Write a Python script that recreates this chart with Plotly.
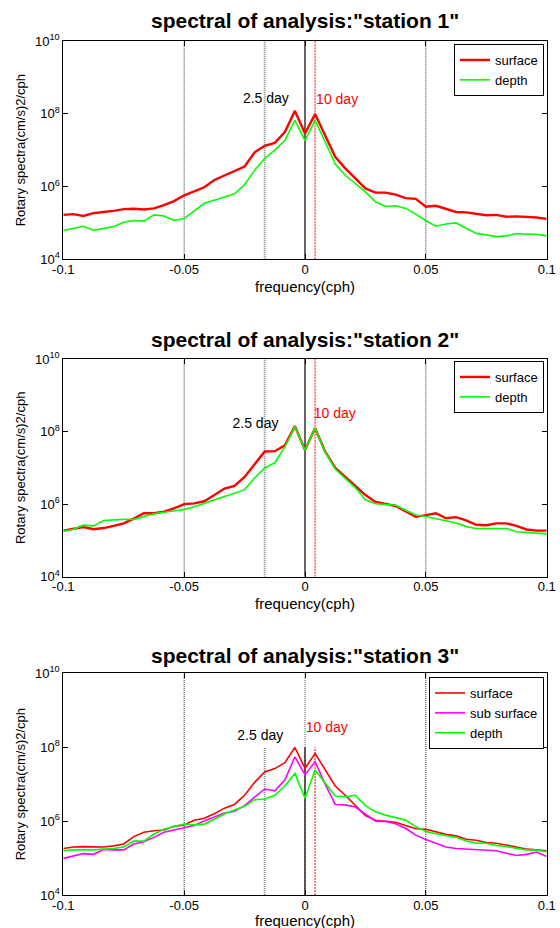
import plotly.graph_objects as go

FONT = "Arial, Liberation Sans, sans-serif"

# frequency grid (cph)
freq = [-0.1, -0.09583, -0.09167, -0.0875, -0.08333, -0.07917, -0.075, -0.07083,
        -0.06667, -0.0625, -0.05833, -0.05417, -0.05, -0.04583, -0.04167, -0.0375,
        -0.03333, -0.02917, -0.025, -0.02083, -0.01667, -0.0125, -0.00833, -0.00417,
        0.0, 0.00417, 0.00833, 0.0125, 0.01667, 0.02083, 0.025, 0.02917, 0.03333,
        0.0375, 0.04167, 0.04583, 0.05, 0.05417, 0.05833, 0.0625, 0.06667, 0.07083,
        0.075, 0.07917, 0.08333, 0.0875, 0.09167, 0.09583, 0.1]

s1_surface = [1.66e5, 1.74e5, 1.55e5, 1.86e5, 2.0e5, 2.14e5, 2.4e5, 2.45e5, 2.34e5, 2.51e5,
              3.09e5, 3.98e5, 5.75e5, 7.24e5, 9.55e5, 1.51e6, 2.04e6, 2.63e6, 3.55e6, 8.71e6,
              1.32e7, 1.58e7, 3.16e7, 1.2e8, 2.88e7, 9.8e7, 2.57e7, 6.6e6, 3.16e6, 1.66e6,
              8.9e5, 6.8e5, 6.8e5, 6.0e5, 4.8e5, 4.6e5, 2.8e5, 2.95e5, 2.4e5, 2.0e5,
              1.95e5, 1.74e5, 1.62e5, 1.66e5, 1.48e5, 1.51e5, 1.48e5, 1.41e5, 1.29e5]
s1_depth = [6.2e4, 7.1e4, 8.1e4, 6.3e4, 6.9e4, 7.9e4, 1.05e5, 1.17e5, 1.12e5, 1.66e5,
            1.55e5, 1.17e5, 1.32e5, 2.14e5, 3.47e5, 4.17e5, 5.25e5, 6.3e5, 1.12e6, 2.82e6,
            5.9e6, 1.0e7, 1.86e7, 6.6e7, 1.82e7, 6.6e7, 1.7e7, 4.17e6, 2.04e6, 1.17e6,
            7.1e5, 3.8e5, 2.82e5, 2.95e5, 2.51e5, 1.74e5, 1.15e5, 8.1e4, 9.3e4, 1.0e5,
            7.2e4, 5.1e4, 4.7e4, 4.2e4, 4.4e4, 5.1e4, 4.9e4, 4.9e4, 4.4e4]

s2_surface = [1.86e5, 2.04e5, 2.34e5, 2.04e5, 2.19e5, 2.51e5, 2.95e5, 3.98e5, 5.6e5, 5.6e5,
              6.2e5, 7.6e5, 1.0e6, 1.05e6, 1.2e6, 1.78e6, 2.69e6, 3.16e6, 5.6e6, 1.26e7,
              2.82e7, 2.88e7, 4.17e7, 1.41e8, 3.09e7, 1.23e8, 2.82e7, 1.0e7, 5.75e6, 3.16e6,
              1.78e6, 1.15e6, 1.02e6, 8.9e5, 6.3e5, 4.47e5, 5.0e5, 5.6e5, 4.07e5, 4.37e5,
              3.55e5, 2.69e5, 2.63e5, 2.95e5, 2.95e5, 2.51e5, 2.0e5, 1.86e5, 1.86e5]
s2_depth = [1.78e5, 2.04e5, 2.63e5, 2.51e5, 3.55e5, 3.72e5, 3.8e5, 3.8e5, 4.57e5, 5.4e5,
            6.0e5, 6.6e5, 7.1e5, 8.5e5, 1.07e6, 1.35e6, 1.62e6, 2.0e6, 2.51e6, 5.25e6,
            1.0e7, 1.38e7, 3.8e7, 1.38e8, 3.09e7, 1.23e8, 2.69e7, 9.3e6, 5.25e6, 2.82e6,
            1.32e6, 1.02e6, 9.8e5, 9.3e5, 6.8e5, 5.0e5, 4.57e5, 3.98e5, 3.63e5, 3.02e5,
            2.4e5, 2.14e5, 2.14e5, 2.14e5, 2.14e5, 1.74e5, 1.66e5, 1.66e5, 1.51e5]

s3_surface = [1.82e5, 2.0e5, 2.04e5, 2.0e5, 2.0e5, 2.14e5, 2.4e5, 3.8e5, 5.0e5, 5.5e5,
              5.75e5, 7.2e5, 7.9e5, 1.05e6, 1.2e6, 1.58e6, 2.24e6, 2.82e6, 5.0e6, 1.12e7,
              2.14e7, 2.63e7, 3.8e7, 9.8e7, 2.69e7, 6.8e7, 2.51e7, 8.9e6, 5.0e6, 2.63e6,
              1.41e6, 1.05e6, 1.0e6, 9.3e5, 7.6e5, 6.2e5, 6.0e5, 5.1e5, 4.37e5, 3.98e5,
              3.24e5, 3.02e5, 2.63e5, 2.51e5, 2.29e5, 2.0e5, 1.74e5, 1.66e5, 1.58e5]
s3_sub = [9.8e4, 1.12e5, 1.32e5, 1.26e5, 1.7e5, 1.66e5, 1.66e5, 2.4e5, 2.75e5, 3.63e5,
          5.0e5, 5.75e5, 6.5e5, 7.6e5, 1.0e6, 1.26e6, 1.66e6, 1.86e6, 2.63e6, 4.47e6,
          7.4e6, 6.6e6, 1.29e7, 5.5e7, 1.78e7, 4.07e7, 1.0e7, 2.82e6, 2.75e6, 2.4e6,
          1.51e6, 1.0e6, 9.8e5, 8.5e5, 6.3e5, 4.17e5, 3.16e5, 2.51e5, 2.0e5, 1.82e5,
          1.74e5, 1.74e5, 1.66e5, 1.58e5, 1.35e5, 1.17e5, 1.26e5, 1.45e5, 1.1e5]
s3_depth = [1.58e5, 1.66e5, 1.66e5, 1.66e5, 1.74e5, 1.82e5, 2.0e5, 2.88e5, 2.88e5, 4.47e5,
            6.0e5, 7.2e5, 8.3e5, 7.9e5, 8.3e5, 1.12e6, 1.58e6, 2.0e6, 2.51e6, 3.8e6,
            3.98e6, 5.0e6, 8.9e6, 1.95e7, 4.17e6, 2.4e7, 1.05e7, 4.8e6, 4.57e6, 5.0e6,
            2.63e6, 1.78e6, 1.45e6, 1.26e6, 1.05e6, 7.1e5, 5.25e5, 4.57e5, 4.17e5, 3.63e5,
            2.88e5, 2.51e5, 2.51e5, 2.19e5, 2.04e5, 1.86e5, 1.66e5, 1.62e5, 1.48e5]

titles = ['spectral of analysis:"station 1"', 'spectral of analysis:"station 2"',
          'spectral of analysis:"station 3"']
x_title = "frequency(cph)"
y_title = "Rotary spectra(cm/s)2/cph"
x_ticks = [-0.1, -0.05, 0, 0.05, 0.1]
x_ticktext = ["-0.1", "-0.05", "0", "0.05", "0.1"]
y_ticks = [1e4, 1e6, 1e8, 1e10]
y_ticktext = ["10<sup>4</sup>", "10<sup>6</sup>", "10<sup>8</sup>", "10<sup>10</sup>"]
y_range = [1e4, 1e10]

# reference frequency markers (cph)
band_edges = [-0.05, 0.05]
f_25day = -1 / 60
f_zero = 0.0
f_10day = 1 / 240
p3_marker_top = 1e8

# label positions (x in cph, y in spectra units)
label_25 = [(-0.0257, 2.5e8), (-0.0300, 1.6e8), (-0.0280, 1.9e8)]
label_10 = [(0.0046, 2.3e8), (0.0036, 2.9e8), (0.0003, 3.2e8)]

panels = [
    [("surface", s1_surface, "#ff0000", 2.4), ("depth", s1_depth, "#00ff00", 1.6)],
    [("surface", s2_surface, "#ff0000", 2.4), ("depth", s2_depth, "#00ff00", 1.6)],
    [("surface", s3_surface, "#ff0000", 1.6), ("sub surface", s3_sub, "#ff00ff", 1.6),
     ("depth", s3_depth, "#00ff00", 1.6)],
]

W, H = 560, 928
x_dom = [63.3 / W, 546.7 / W]
y_px = [(41, 259.3), (359, 576.7), (673.3, 895)]
title_px = [20.7, 339, 655]
xtitle_px = [286.5, 603.5, 920]
legend_top_px = [44, 361, 677]

fig = go.Figure()

for i, series in enumerate(panels):
    n = "" if i == 0 else str(i + 1)
    xa, ya = "x" + n, "y" + n
    leg = "legend" + n

    def vline(x, y0, y1, color, width, dash):
        fig.add_trace(go.Scatter(x=[x, x], y=[y0, y1], mode="lines", xaxis=xa, yaxis=ya,
                                 line=dict(color=color, width=width, dash=dash),
                                 showlegend=False, hoverinfo="skip"))

    for e in band_edges:
        vline(e, y_range[0], y_range[1], "#333333", 1, "1px,1px")
    if i < 2:
        vline(f_25day, y_range[0], y_range[1], "#8a8a8a", 2, "1px,1px")
        vline(f_zero, y_range[0], y_range[1], "#000000", 1.2, "solid")
        vline(f_10day, y_range[0], y_range[1], "#ff0000", 1, "2px,1px")
    else:
        vline(f_25day, y_range[0], p3_marker_top, "#8a8a8a", 2, "1px,1px")
        vline(f_zero, y_range[0], y_range[1], "#777777", 1.2, "1px,1px")
        vline(f_zero, y_range[0], p3_marker_top, "#000000", 1.2, "solid")
        vline(f_10day, y_range[0], p3_marker_top, "#ff0000", 1, "2px,1px")

    for name, vals, color, width in series:
        fig.add_trace(go.Scatter(x=freq, y=vals, mode="lines", name=name, xaxis=xa, yaxis=ya,
                                 line=dict(color=color, width=width), legend=leg))

    fig.add_trace(go.Scatter(x=[label_25[i][0]], y=[label_25[i][1]], mode="text",
                             text=["2.5 day"], textposition="middle right",
                             textfont=dict(family=FONT, size=14, color="#000000"),
                             xaxis=xa, yaxis=ya, showlegend=False, hoverinfo="skip"))
    fig.add_trace(go.Scatter(x=[label_10[i][0]], y=[label_10[i][1]], mode="text",
                             text=["10 day"], textposition="middle right",
                             textfont=dict(family=FONT, size=14, color="#ff0000"),
                             xaxis=xa, yaxis=ya, showlegend=False, hoverinfo="skip"))

    top, bot = y_px[i]
    fig.layout["xaxis" + n] = dict(
        domain=x_dom, range=[-0.1, 0.1], anchor=ya, showline=True, linecolor="black",
        linewidth=1, mirror="ticks", ticks="inside", ticklen=5, tickcolor="black",
        tickvals=x_ticks, ticktext=x_ticktext, tickfont=dict(family=FONT, size=13, color="black"),
        ticklabelstandoff=-2,
        showgrid=False, zeroline=False, automargin=False)
    fig.layout["yaxis" + n] = dict(
        domain=[1 - bot / H, 1 - top / H], type="log", range=[4, 10], anchor=xa,
        showline=True, linecolor="black", linewidth=1, mirror="ticks", ticks="inside",
        ticklen=5, tickcolor="black", tickvals=y_ticks, ticktext=y_ticktext,
        tickfont=dict(family=FONT, size=13, color="black"), showgrid=False, zeroline=False,
        automargin=False,
        title=dict(text=y_title, font=dict(family=FONT, size=13, color="black"), standoff=6))
    fig.layout[leg] = dict(
        x=544 / W, xanchor="right", y=1 - legend_top_px[i] / H, yanchor="top",
        bgcolor="white", bordercolor="black", borderwidth=1,
        font=dict(family=FONT, size=13, color="black"), tracegroupgap=0,
        itemwidth=30)
    fig.add_annotation(text="<b>" + titles[i] + "</b>", xref="paper", yref="paper",
                       x=(x_dom[0] + x_dom[1]) / 2, y=1 - title_px[i] / H,
                       xanchor="center", yanchor="middle", showarrow=False,
                       font=dict(family=FONT, size=21, color="black"))
    fig.add_annotation(text=x_title, xref="paper", yref="paper",
                       x=(x_dom[0] + x_dom[1]) / 2, y=1 - xtitle_px[i] / H,
                       xanchor="center", yanchor="middle", showarrow=False, borderpad=0,
                       font=dict(family=FONT, size=15, color="black"))

fig.update_layout(width=W, height=H, margin=dict(l=0, r=0, t=0, b=0),
                  paper_bgcolor="white", plot_bgcolor="white", showlegend=True,
                  font=dict(family=FONT, color="black"))

fig.write_html("out.html")
